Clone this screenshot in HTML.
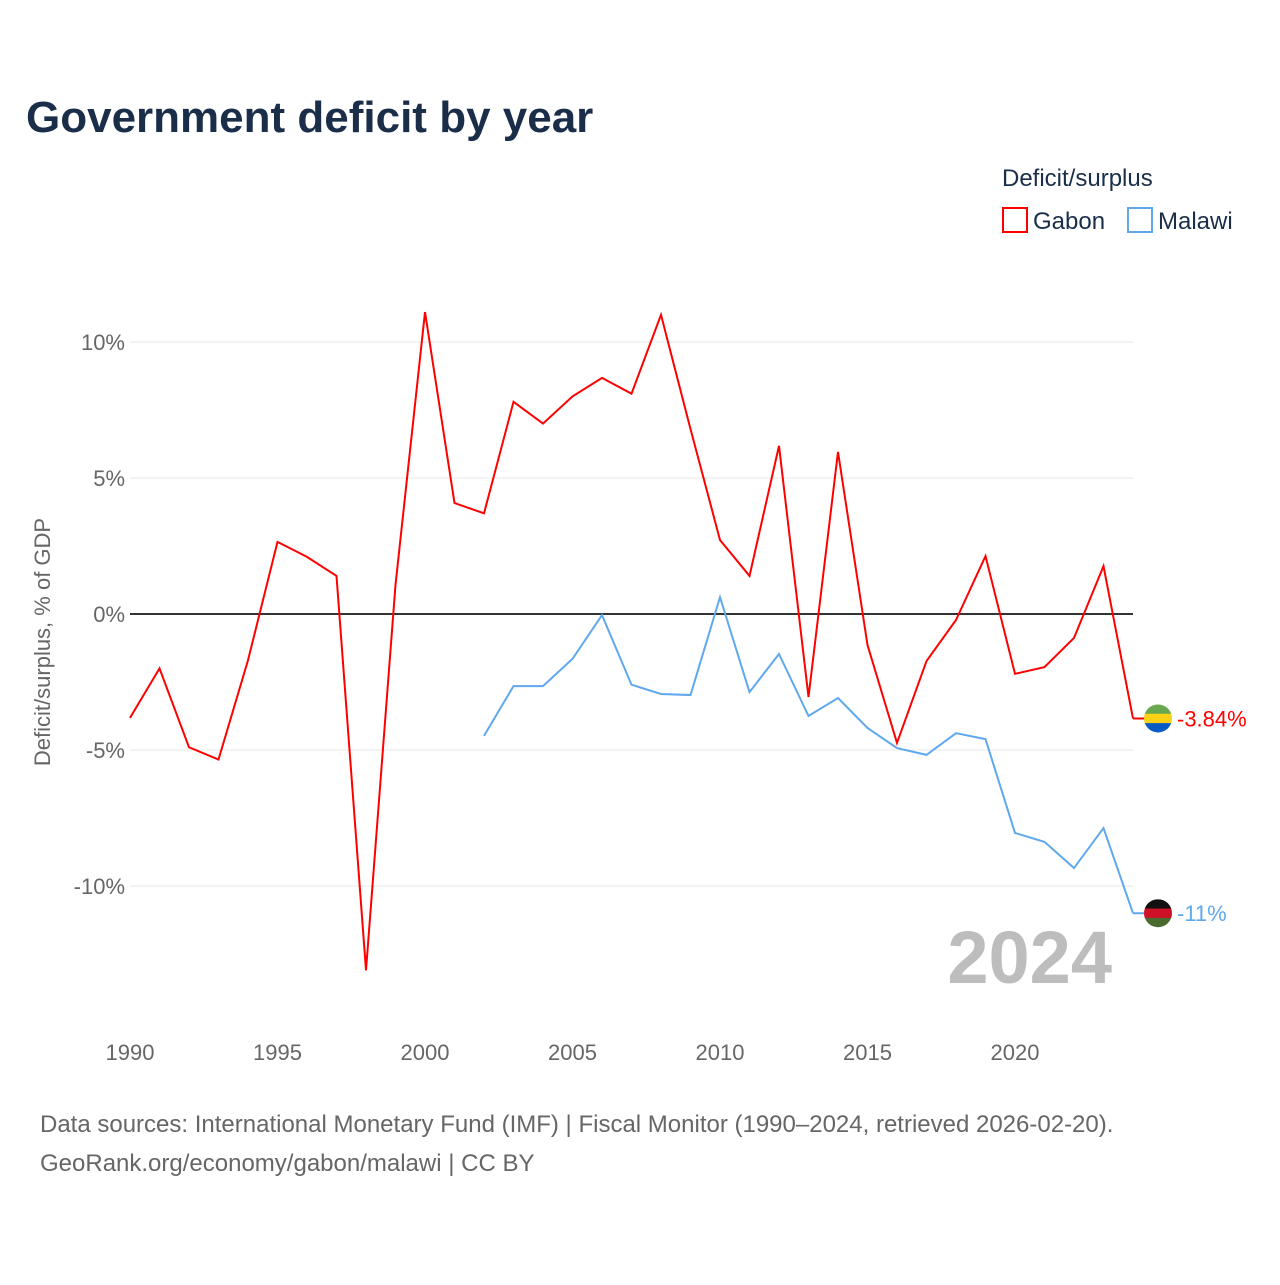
<!DOCTYPE html>
<html><head><meta charset="utf-8"><style>
body{margin:0;background:#fff;font-family:"Liberation Sans",sans-serif}
svg text{font-family:"Liberation Sans",sans-serif}
</style></head><body>
<svg id="c" width="1280" height="1280" xmlns="http://www.w3.org/2000/svg">
<text x="26" y="132" font-size="44" font-weight="bold" fill="#1a2e4a">Government deficit by year</text>
<text x="1002" y="186" font-size="24" fill="#1a2e4a">Deficit/surplus</text>
<g><rect x="1003" y="208" width="24" height="24" fill="none" stroke="#ff0000" stroke-width="2"/><text x="1033" y="229" font-size="24" fill="#1a2e4a">Gabon</text></g>
<g><rect x="1128" y="208" width="24" height="24" fill="none" stroke="#5fa8ee" stroke-width="2"/><text x="1158" y="229" font-size="24" fill="#1a2e4a">Malawi</text></g>
<text transform="translate(50,642) rotate(-90)" text-anchor="middle" font-size="22" fill="#666">Deficit/surplus, % of GDP</text>
<g id="grid"></g><g id="series"></g>
<text x="1112" y="983" text-anchor="end" font-size="74" font-weight="bold" fill="#bdbdbd">2024</text>
<text x="40" y="1132" font-size="24" fill="#666">Data sources: International Monetary Fund (IMF) | Fiscal Monitor (1990–2024, retrieved 2026-02-20).</text>
<text x="40" y="1171" font-size="24" fill="#666">GeoRank.org/economy/gabon/malawi | CC BY</text>
</svg>
<script>
const yTicks=[10,5,0,-5,-10];
const xTicks=[1990,1995,2000,2005,2010,2015,2020];
const gabonYears=[1990,1991,1992,1993,1994,1995,1996,1997,1998,1999,2000,2001,2002,2003,2004,2005,2006,2007,2008,2009,2010,2011,2012,2013,2014,2015,2016,2017,2018,2019,2020,2021,2022,2023,2024];
const gabonValues=[-3.82,-2.0,-4.9,-5.35,-1.7,2.65,2.1,1.4,-13.1,1.07,11.1,4.08,3.7,7.8,7.0,8.0,8.68,8.1,11.0,6.8,2.72,1.4,6.18,-3.05,5.96,-1.14,-4.74,-1.73,-0.22,2.13,-2.2,-1.95,-0.88,1.76,-3.84];
const malawiYears=[2002,2003,2004,2005,2006,2007,2008,2009,2010,2011,2012,2013,2014,2015,2016,2017,2018,2019,2020,2021,2022,2023,2024];
const malawiValues=[-4.48,-2.65,-2.65,-1.65,-0.04,-2.6,-2.94,-2.98,0.62,-2.87,-1.47,-3.75,-3.09,-4.19,-4.93,-5.18,-4.38,-4.6,-8.05,-8.38,-9.34,-7.87,-11.0];
const NS="http://www.w3.org/2000/svg";
const X=y=>130+(y-1990)*(1003/34);
const Y=v=>614-v*27.2;
function mk(t,a,p){const e=document.createElementNS(NS,t);for(const k in a)e.setAttribute(k,a[k]);p.appendChild(e);return e;}
const g=document.getElementById('grid'),s=document.getElementById('series');
yTicks.forEach(v=>{
 const l=mk('line',{x1:130,x2:1133,y1:Y(v),y2:Y(v),stroke:v===0?'#333':'#e8e8e8','stroke-width':v===0?2:1},g);
 
 
 const t=mk('text',{x:125,y:Y(v)+8,'text-anchor':'end','font-size':22,fill:'#666'},g);
 t.textContent=v+'%';
 
 
});
xTicks.forEach(y=>{
 const t=mk('text',{x:X(y),y:1060,'text-anchor':'middle','font-size':22,fill:'#666'},g);
 t.textContent=y;
 
 
});
const defs=mk('defs',{},s);
function line(ys,vs,col,name,lab,stripes){
 const p=mk('polyline',{points:ys.map((y,i)=>X(y)+','+Y(vs[i])).join(' '),fill:'none',stroke:col,'stroke-width':2},s);
 
 
 const last=vs[vs.length-1],x0=X(ys[ys.length-1]),lx=x0+25,ly=Y(last);
 mk('line',{x1:x0,x2:lx,y1:ly,y2:ly,stroke:col,'stroke-width':2},s);
 const cp=mk('clipPath',{id:name+'-clip'},defs);
 mk('circle',{cx:lx,cy:ly,r:14},cp);
 const fg=mk('g',{'clip-path':'url(#'+name+'-clip)'},s);
 
 
 stripes.forEach((c,i)=>mk('rect',{x:lx-14,y:ly-14+i*28/3,width:28,height:28/3+0.5,fill:c},fg));
 const t=mk('text',{x:lx+19,y:ly+8,'font-size':22,fill:col},s);
 t.textContent=lab;
 
 
}
line(gabonYears,gabonValues,'#ff0000','gabon-line','-3.84%',['#6aa84f','#fcd116','#0a5bc4']);
line(malawiYears,malawiValues,'#5fa8ee','malawi-line','-11%',['#111111','#ce1126','#4a6b30']);
</script>
</body></html>
